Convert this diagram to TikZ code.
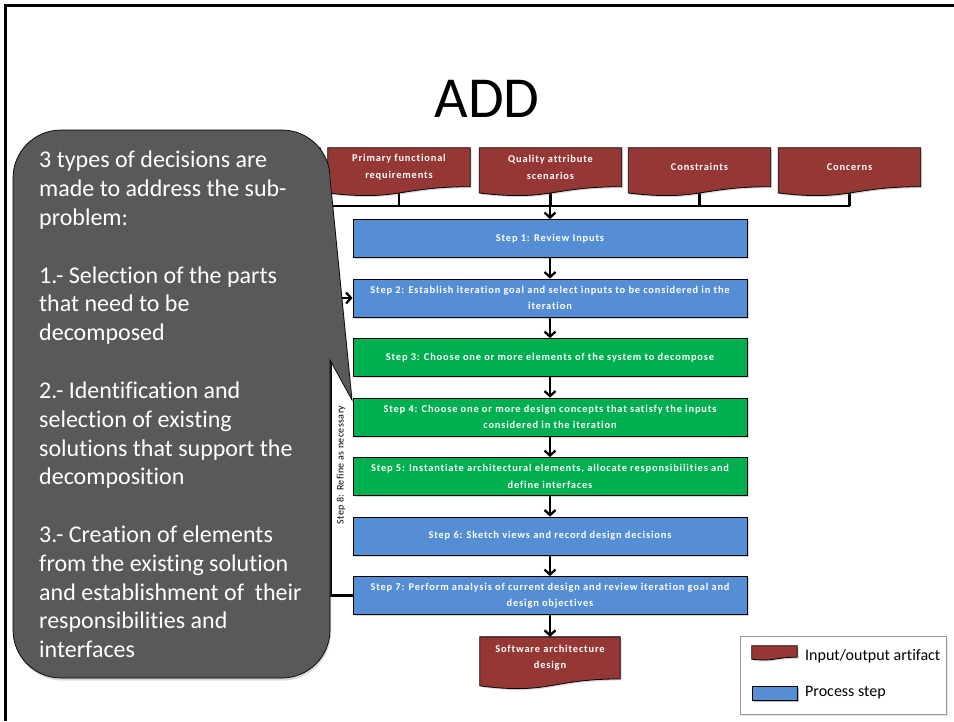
\documentclass[tikz,border=0pt]{standalone}
\usepackage{fontspec}
\setmainfont[Ligatures=NoCommon]{Carlito}
\newfontfamily\spc[LetterSpace=8,Ligatures=NoCommon]{Carlito}
\newfontfamily\lblfont[LetterSpace=4,Ligatures=NoCommon]{Carlito}
\usetikzlibrary{calc,arrows.meta,shadows}
\definecolor{docred}{RGB}{149,55,53}
\definecolor{stepblue}{RGB}{85,142,213}
\definecolor{stepgreen}{RGB}{0,176,80}
\definecolor{calloutgray}{RGB}{89,89,89}
\newcommand\stepfnt{\spc\bfseries\fontsize{10.4}{16.5}\selectfont}
\newcommand\docshape[3]{%
  \path[docfill] (#1.north west) -- (#1.north east) -- (#1.south east)
    .. controls (#1.south) and ($(#1.south)+(0,#2)$) .. ($(#1.south west)+(0,#3)$) -- cycle;}
\pgfdeclarelayer{bg}\pgfdeclarelayer{mid}\pgfdeclarelayer{fg}
\pgfsetlayers{bg,mid,main,fg}
\tikzset{
  conn/.style={line width=2.3pt, draw=black},
  arr/.style={conn, -{Straight Barb[length=5pt,width=11pt]}},
  shad/.style={drop shadow={opacity=0.3, shadow xshift=1.5pt, shadow yshift=-1.5pt}},
  box/.style={draw=black, line width=0.8pt, minimum width=394pt, minimum height=38pt,
    align=center, text=white, font=\stepfnt, inner sep=2pt, shad},
  bluebox/.style={box, fill=stepblue},
  greenbox/.style={box, fill=stepgreen},
  doctext/.style={minimum width=142pt, minimum height=38.5pt, align=center,
    text=white, font=\stepfnt, inner sep=0pt},
  docfill/.style={fill=docred, draw=black, line width=0.8pt, shad},
}
\begin{document}
\begin{tikzpicture}[x=1pt,y=-1pt]
\useasboundingbox (0,0) rectangle (954,721);
% title
\node (title) at (487,98.5) {\fontsize{58}{60}\selectfont ADD};
% input artifacts
\node[doctext] (a0)  at (249,167.25) {};
\node[doctext] (pfr) at (399,167.25) {Primary functional\\requirements};
\node[doctext] (qas) at (550.5,167.25) {Quality attribute\\scenarios};
\node[doctext] (con) at (699.5,167.25) {Constraints};
\node[doctext] (cnc) at (849.5,167.25) {Concerns};
\coordinate (busL) at (249,206);
\coordinate (busR) at (849.5,206);
% steps
\node[bluebox]  (s1) at (550,238.5) {Step 1: Review Inputs};
\node[bluebox]  (s2) at (550,298) {Step 2: Establish iteration goal and select inputs to be considered in the\\iteration};
\node[greenbox] (s3) at (550,357.5) {Step 3: Choose one or more elements of the system to decompose};
\node[greenbox] (s4) at (550,417) {Step 4: Choose one or more design concepts that satisfy the inputs\\considered in the iteration};
\node[greenbox] (s5) at (550,476.5) {Step 5: Instantiate architectural elements, allocate responsibilities and\\define interfaces};
\node[bluebox]  (s6) at (550,536) {Step 6: Sketch views and record design decisions};
\node[bluebox]  (s7) at (550,595.5) {Step 7: Perform analysis of current design and review iteration goal and\\design objectives};
% output artifact
\node[doctext, minimum width=140pt, minimum height=41.7pt] (sad) at (550,657.9) {Software architecture\\design};
% loop label
\node[rotate=90, font=\lblfont\fontsize{10}{12}\selectfont, inner sep=0pt] (lbl) at (341,465) {Step 8: Refine as necessary};
% legend
\node[draw=gray!80, line width=0.8pt, minimum width=206pt, minimum height=78pt, fill=white,
  drop shadow={opacity=0.2, shadow xshift=1.5pt, shadow yshift=-1.5pt}] (leg) at (843,675) {};
\node[minimum width=45pt, minimum height=11pt, inner sep=0pt] (legdoc) at (774.5,651.5) {};
\node[bluebox, minimum width=45pt, minimum height=14pt, inner sep=0pt, shad] (legstep) at (774.5,693) {};
\node[anchor=west, font=\fontsize{16}{18}\selectfont, inner sep=0pt] (legt1) at (805,656) {Input/output artifact};
\node[anchor=west, font=\fontsize{16}{18}\selectfont, inner sep=0pt] (legt2) at (805,693) {Process step};
% document shapes
\begin{pgfonlayer}{mid}
  \docshape{a0}{14.7}{6.3}
  \docshape{pfr}{14.7}{6.3}
  \docshape{qas}{14.7}{6.3}
  \docshape{con}{14.7}{6.3}
  \docshape{cnc}{14.7}{6.3}
  \docshape{sad}{15.9}{6.9}
\end{pgfonlayer}
\docshape{legdoc}{4.5}{2}
% connectors and page
\begin{pgfonlayer}{bg}
  \fill[white] (0,0) rectangle (954,721);
  \draw[line width=2.2pt] (954,5.5) -- (5.5,5.5) -- (5.5,721);
  \draw[conn] (busL) -- (busR);
  \foreach \n in {a0,pfr,qas,con,cnc} \draw[conn] (\n.south) -- (\n.south |- busL);
  \draw[arr] (s1.north |- busL) -- (s1.north);
  \draw[arr] (s1) -- (s2);
  \draw[arr] (s2) -- (s3);
  \draw[arr] (s3) -- (s4);
  \draw[arr] (s4) -- (s5);
  \draw[arr] (s5) -- (s6);
  \draw[arr] (s6) -- (s7);
  \draw[arr] (s7) -- (sad);
  \draw[arr] (s7.west) -- ++(-22,0) |- (s2.west);
\end{pgfonlayer}
% callout
\begin{pgfonlayer}{fg}
  \path[fill=calloutgray, draw=black, line width=0.7pt,
    drop shadow={opacity=0.3, shadow xshift=1pt, shadow yshift=-2.5pt}]
    (13,178) .. controls (13,151.5) and (34.5,130) .. (61,130) -- (282,130)
    .. controls (308.5,130) and (330,151.5) .. (330,178) -- (352,400) -- (330,360) -- (330,630)
    .. controls (330,656.5) and (308.5,678) .. (282,678) -- (61,678)
    .. controls (34.5,678) and (13,656.5) .. (13,630) -- cycle;
  \node[anchor=north west, inner sep=0pt, align=left, text=white,
    font=\fontsize{24}{28.82}\selectfont] (ctext) at (39,151)
    {3 types of decisions are\\made to address the sub-\\problem:\\[28.82pt]
     1.- Selection of the parts\\that need to be\\decomposed\\[28.82pt]
     2.- Identification and\\selection of existing\\solutions that support the\\decomposition\\[28.82pt]
     3.- Creation of elements\\from the existing solution\\and establishment of~ their\\responsibilities and\\interfaces};
\end{pgfonlayer}
\end{tikzpicture}
\end{document}
